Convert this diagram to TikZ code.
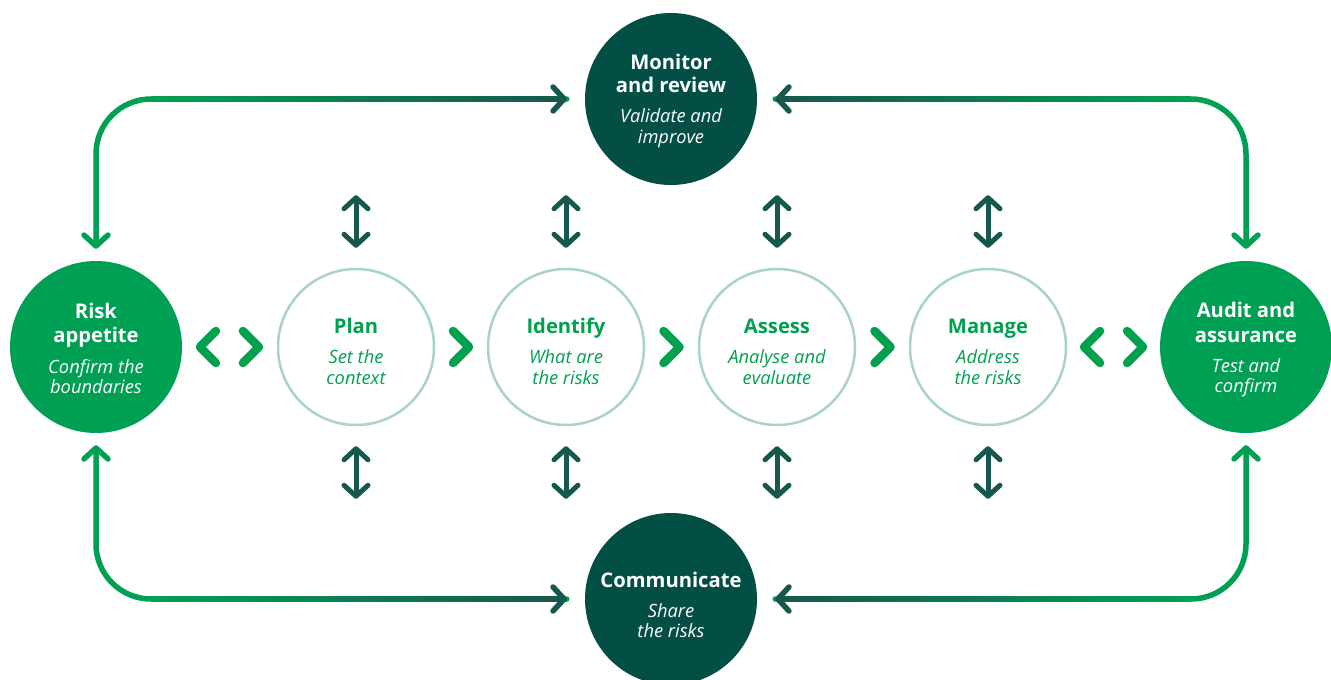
\documentclass[tikz,border=0pt]{standalone}
\usepackage{fontspec}
\setmainfont{Open Sans}
\usetikzlibrary{arrows.meta,calc}
\definecolor{grn}{HTML}{00A054}
\definecolor{tealc}{HTML}{034F45}
\definecolor{arrd}{HTML}{17584E}
\definecolor{ring}{HTML}{A9D5BE}
\definecolor{chev}{HTML}{00A04E}
\begin{document}
\begin{tikzpicture}[x=1pt,y=-1pt,
 >={Straight Barb[length=11pt,width=24pt,line cap=round,line join=round]},
 big/.style={circle, inner sep=0pt, minimum size=172pt},
 mid/.style={circle, draw=ring, line width=2.5pt, inner sep=0pt, minimum size=156pt, fill=white},
 ttl/.style={anchor=base, font=\fontsize{20.2}{24}\selectfont\bfseries, inner sep=0pt},
 sub/.style={anchor=base, font=\fontsize{18.3}{20}\selectfont\itshape, inner sep=0pt},
 conn/.style={line width=5.5pt, rounded corners=55pt, line cap=round},
 varr/.style={line width=5pt, arrd, line cap=round, <->},
 chv/.style={line width=8.5pt, chev, line cap=round, line join=round}
]
\useasboundingbox (0,0) rectangle (1331,680);
% circles
\node[big, fill=tealc] (mon) at (671,99) {};
\node[big, fill=tealc] (com) at (671,599) {};
\node[big, fill=grn] (ra) at (96,347) {};
\node[big, fill=grn] (aud) at (1246,347) {};
\node[mid] (plan) at (356,347) {};
\node[mid] (ide) at (566,347) {};
\node[mid] (ass) at (777,347) {};
\node[mid] (man) at (988,347) {};

% outer connectors
\coordinate (tl-a) at ($(ra.north)+(0,-12)$);
\coordinate (tl-b) at ($(mon.west)+(-18,0)$);
\coordinate (tr-a) at ($(mon.east)+(18,0)$);
\coordinate (tr-b) at ($(aud.north)+(0,-12)$);
\coordinate (bl-a) at ($(ra.south)+(0,12)$);
\coordinate (bl-b) at ($(com.west)+(-18,0)$);
\coordinate (br-a) at ($(com.east)+(18,0)$);
\coordinate (br-b) at ($(aud.south)+(0,12)$);

\draw[conn, grn, <-] (tl-a) |- (tl-b);
\shade[left color=grn, right color=arrd] ($(ra.north|-tl-b)+(55,-2.75)$) rectangle ($(tl-b)+(-7,2.75)$);
\draw[conn, arrd, ->] ($(tl-b)+(-12,0)$) -- (tl-b);

\draw[conn, grn, ->] (tr-a) -| (tr-b);
\shade[left color=arrd, right color=grn] ($(tr-a)+(7,-2.75)$) rectangle ($(aud.north|-tr-a)+(-55,2.75)$);
\draw[conn, arrd, <-] (tr-a) -- ($(tr-a)+(12,0)$);

\draw[conn, grn, <-] (bl-a) |- (bl-b);
\shade[left color=grn, right color=arrd] ($(ra.south|-bl-b)+(55,-2.75)$) rectangle ($(bl-b)+(-7,2.75)$);
\draw[conn, arrd, ->] ($(bl-b)+(-12,0)$) -- (bl-b);

\draw[conn, grn, ->] (br-a) -| (br-b);
\shade[left color=arrd, right color=grn] ($(br-a)+(7,-2.75)$) rectangle ($(aud.south|-br-a)+(-55,2.75)$);
\draw[conn, arrd, <-] (br-a) -- ($(br-a)+(12,0)$);

% vertical double arrows
\foreach \p in {plan,ide,ass,man}{
  \draw[varr] ($(\p.north)+(0,-20)$) -- ++(0,-52.5);
  \draw[varr] ($(\p.south)+(0,20)$) -- ++(0,52.5);
}

% chevrons
\coordinate (c1) at ($(plan.east)!0.5!(ide.west)$);
\coordinate (c2) at ($(ide.east)!0.5!(ass.west)$);
\coordinate (c3) at ($(ass.east)!0.5!(man.west)$);
\coordinate (cl) at ($(ra.east)!0.5!(plan.west)$);
\coordinate (cr) at ($(man.east)!0.5!(aud.west)$);
\foreach \c in {c1,c2,c3}{
  \draw[chv] ($(\c)+(-8,-16)$) -- ($(\c)+(8,0)$) -- ($(\c)+(-8,16)$);
}
\foreach \c in {cl,cr}{
  \draw[chv] ($(\c)+(-13.5,-16)$) -- ($(\c)+(-29.5,0)$) -- ($(\c)+(-13.5,16)$);
  \draw[chv] ($(\c)+(13.5,-16)$) -- ($(\c)+(29.5,0)$) -- ($(\c)+(13.5,16)$);
}

% texts
\node[ttl, white] (mon-1) at ($(mon)+(0,-30)$) {Monitor};
\node[ttl, white] (mon-2) at ($(mon)+(0,-7)$) {and review};
\node[sub, white] (mon-3) at ($(mon)+(0,23)$) {Validate and};
\node[sub, white] (mon-4) at ($(mon)+(0,44)$) {improve};

\node[ttl, white] (com-1) at ($(com)+(0,-12)$) {Communicate};
\node[sub, white] (com-2) at ($(com)+(0,18)$) {Share};
\node[sub, white] (com-3) at ($(com)+(0,38)$) {the risks};

\node[ttl, white] (ra-1) at ($(ra)+(0,-29)$) {Risk};
\node[ttl, white] (ra-2) at ($(ra)+(0,-5)$) {appetite};
\node[sub, white] (ra-3) at ($(ra)+(0,26)$) {Confirm the};
\node[sub, white] (ra-4) at ($(ra)+(0,46)$) {boundaries};

\node[ttl, white] (aud-1) at ($(aud)+(0,-30)$) {Audit and};
\node[ttl, white] (aud-2) at ($(aud)+(0,-5)$) {assurance};
\node[sub, white] (aud-3) at ($(aud)+(0,25)$) {Test and};
\node[sub, white] (aud-4) at ($(aud)+(0,45)$) {confirm};

\node[ttl, chev] (plan-1) at ($(plan)+(0,-14)$) {Plan};
\node[sub, chev] (plan-2) at ($(plan)+(0,16)$) {Set the};
\node[sub, chev] (plan-3) at ($(plan)+(0,37)$) {context};

\node[ttl, chev] (ide-1) at ($(ide)+(0,-14)$) {Identify};
\node[sub, chev] (ide-2) at ($(ide)+(0,16)$) {What are};
\node[sub, chev] (ide-3) at ($(ide)+(0,37)$) {the risks};

\node[ttl, chev] (ass-1) at ($(ass)+(0,-14)$) {Assess};
\node[sub, chev] (ass-2) at ($(ass)+(0,16)$) {Analyse and};
\node[sub, chev] (ass-3) at ($(ass)+(0,37)$) {evaluate};

\node[ttl, chev] (man-1) at ($(man)+(0,-14)$) {Manage};
\node[sub, chev] (man-2) at ($(man)+(0,16)$) {Address};
\node[sub, chev] (man-3) at ($(man)+(0,37)$) {the risks};
\end{tikzpicture}
\end{document}
